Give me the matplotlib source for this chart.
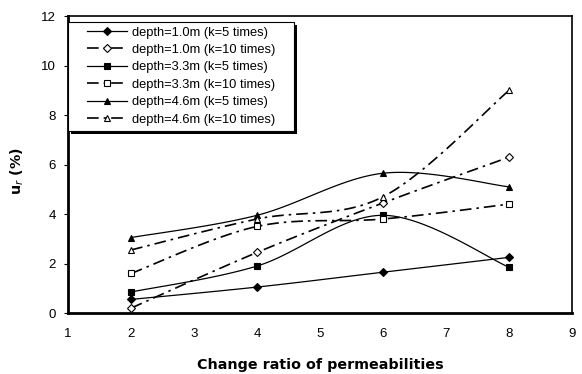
import matplotlib
matplotlib.use("Agg")
import matplotlib.pyplot as plt
from matplotlib.patches import Rectangle
import numpy as np

# ---------------------------------------------------------------------------
# Data
# ---------------------------------------------------------------------------
RATIO = [2, 4, 6, 8]

D10_K5 = [0.55, 1.05, 1.65, 2.25]
D10_K10 = [0.2, 2.45, 4.45, 6.3]
D33_K5 = [0.85, 1.9, 3.95, 1.85]
D33_K10 = [1.6, 3.5, 3.8, 4.4]
D46_K5 = [3.05, 3.95, 5.65, 5.1]
D46_K10 = [2.55, 3.8, 4.7, 9.0]

LABELS = [
    "depth=1.0m (k=5 times)",
    "depth=1.0m (k=10 times)",
    "depth=3.3m (k=5 times)",
    "depth=3.3m (k=10 times)",
    "depth=4.6m (k=5 times)",
    "depth=4.6m (k=10 times)",
]
SERIES = [D10_K5, D10_K10, D33_K5, D33_K10, D46_K5, D46_K10]
MARKERS = ["D", "D", "s", "s", "^", "^"]
FILLED = [True, False, True, False, True, False]


def excel_smooth(xs, ys, n=40):
    """Excel-style smoothed line (Bezier through points, tension 1/6)."""
    p = np.column_stack([xs, ys]).astype(float)
    out = []
    for i in range(len(p) - 1):
        p0 = p[i - 1] if i > 0 else p[i]
        p1, p2 = p[i], p[i + 1]
        p3 = p[i + 2] if i + 2 < len(p) else p[i + 1]
        c1 = p1 + (p2 - p0) / 6
        c2 = p2 - (p3 - p1) / 6
        t = np.linspace(0, 1, n)[:, None]
        seg = ((1 - t) ** 3) * p1 + 3 * ((1 - t) ** 2) * t * c1 + 3 * (1 - t) * t**2 * c2 + t**3 * p2
        out.append(seg if i == 0 else seg[1:])
    s = np.vstack(out)
    return s[:, 0], s[:, 1]


plt.rcParams["font.family"] = ["Liberation Sans", "DejaVu Sans"]
fig = plt.figure(figsize=(5.82, 3.74), dpi=100)
ax = fig.add_axes([0.117, 0.163, 0.866, 0.794])

dashdot = (0, (7, 3, 1.5, 3))
handles = []
for ys, lbl, mk, filled in zip(SERIES, LABELS, MARKERS, FILLED):
    ls = "-" if filled else dashdot
    lw = 0.9 if filled else 1.2
    sx, sy = excel_smooth(RATIO, ys)
    ax.plot(sx, sy, color="black", linestyle=ls, linewidth=lw, zorder=2)
    ms = 5 if mk != "D" else 4
    ax.plot(RATIO, ys, linestyle="none", marker=mk, markersize=ms,
            markerfacecolor="black" if filled else "white",
            markeredgecolor="black", markeredgewidth=0.8, zorder=3)
    h, = ax.plot([], [], color="black", linestyle=ls, linewidth=lw, marker=mk,
                 markersize=ms, markerfacecolor="black" if filled else "white",
                 markeredgecolor="black", markeredgewidth=0.8, label=lbl)
    handles.append(h)

ax.set_xlim(1, 9)
ax.set_ylim(0, 12)
ax.set_xticks(range(1, 10))
ax.set_yticks(range(0, 13, 2))
ax.tick_params(axis="both", labelsize=9.5, length=3, width=0.8, direction="out")
ax.tick_params(axis="x", length=0, pad=11)
ax.tick_params(axis="y", pad=6)
for side in ["left", "bottom"]:
    ax.spines[side].set_linewidth(2)
for side in ["top", "right"]:
    ax.spines[side].set_linewidth(1.2)

ax.set_xlabel("Change ratio of permeabilities", fontsize=10.3, fontweight="bold",
              family="DejaVu Sans", labelpad=13)
ax.set_ylabel("u$_r$ (%)", fontsize=10.3, fontweight="bold", family="DejaVu Sans")
ax.yaxis.set_label_coords(-0.083, 0.478)

# legend content without frame; the boxed frame with a hard shadow is drawn after
leg = ax.legend(handles=handles, loc="upper left", bbox_to_anchor=(0.038, 0.965),
                fontsize=9.3, frameon=False, handlelength=3.1, handletextpad=0.4,
                labelspacing=0.42, borderpad=0, borderaxespad=0)
leg.set_zorder(6)

fig.canvas.draw()
bb = leg.get_window_extent()
W, H = fig.bbox.width, fig.bbox.height
x0 = ax.get_window_extent().x0
x1 = bb.x1 + 18
y1 = H - 22
y0 = bb.y0 - 5
shadow = Rectangle(((x0 + 3) / W, (y0 - 3) / H), (x1 - x0) / W, (y1 - y0) / H,
                   transform=fig.transFigure, facecolor="black", edgecolor="none",
                   clip_on=False, zorder=4)
frame = Rectangle((x0 / W, y0 / H), (x1 - x0) / W, (y1 - y0) / H,
                  transform=fig.transFigure, facecolor="white", edgecolor="black",
                  linewidth=0.8, clip_on=False, zorder=5)
ax.add_patch(shadow)
ax.add_patch(frame)

fig.savefig("out.png", dpi=100)
